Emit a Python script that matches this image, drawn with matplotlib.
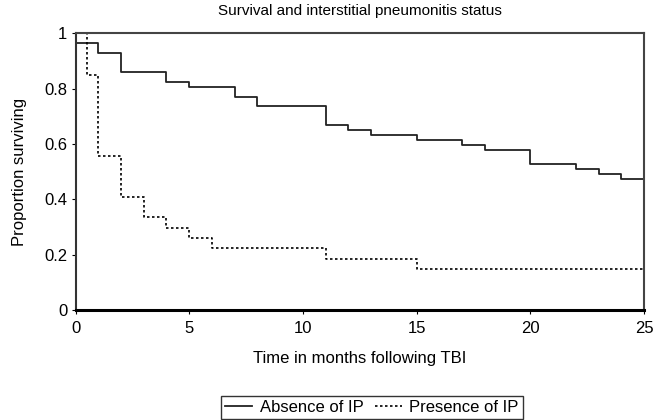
import matplotlib
matplotlib.use("Agg")
import matplotlib.pyplot as plt

# Kaplan-Meier style step data
absent_t = [0, 1, 2, 4, 5, 7, 8, 11, 12, 13, 15, 17, 18, 20, 22, 23, 24, 25]
absent_s = [0.965, 0.929, 0.859, 0.824, 0.806, 0.771, 0.736, 0.668, 0.650,
            0.632, 0.614, 0.597, 0.579, 0.526, 0.509, 0.491, 0.474, 0.474]
present_t = [0, 0.5, 1, 2, 3, 4, 5, 6, 11, 15, 25]
present_s = [1.0, 0.851, 0.556, 0.407, 0.335, 0.295, 0.259, 0.223, 0.185, 0.147, 0.147]

xticks = [0, 5, 10, 15, 20, 25]
yticks = [0, 0.2, 0.4, 0.6, 0.8, 1]
yticklabels = ["0", "0.2", "0.4", "0.6", "0.8", "1"]

def main():
    plt.rcParams["font.family"] = ["Liberation Sans", "DejaVu Sans"]
    fig = plt.figure(figsize=(6.56, 4.2), dpi=100)
    ax = fig.add_axes([0.1151, 0.2619, 0.8666, 0.6588])

    ax.plot(absent_t, absent_s, drawstyle="steps-post", color="#222222", lw=1.3,
            label="Absence of IP")
    ax.plot(present_t, present_s, drawstyle="steps-post", color="black", lw=1.2,
            ls=(0, (1.5, 1.5)), label="Presence of IP")

    ax.set_xlim(0, 25)
    ax.set_ylim(0, 1)
    ax.set_xticks(xticks)
    ax.set_yticks(yticks)
    ax.set_yticklabels(yticklabels)
    ax.tick_params(axis="x", direction="out", length=3, labelsize=12, pad=5)
    ax.tick_params(axis="y", direction="out", length=3, labelsize=12, pad=3)

    ax.spines["bottom"].set_linewidth(2.2)
    ax.spines["bottom"].set_color("black")
    ax.spines["left"].set_linewidth(1.5)
    ax.spines["left"].set_color("#333333")
    for s in ["top", "right"]:
        ax.spines[s].set_linewidth(1.5)
        ax.spines[s].set_color("#444444")

    ax.set_title("Survival and interstitial pneumonitis status", fontsize=11, pad=13)
    ax.set_xlabel("Time in months following TBI", fontsize=12, labelpad=11)
    ax.set_ylabel("Proportion surviving", fontsize=12, labelpad=12)

    leg = fig.legend(loc="lower center", bbox_to_anchor=(0.567, 0.0), ncol=2,
                     fontsize=12, frameon=True, fancybox=False, handlelength=1.6,
                     handletextpad=0.45, columnspacing=0.7, borderpad=0.25,
                     borderaxespad=0.05)
    leg.get_frame().set_edgecolor("black")
    leg.get_frame().set_linewidth(1.0)

    fig.savefig("out.png", dpi=100)
    plt.close()

if __name__ == "__main__":
    main()
